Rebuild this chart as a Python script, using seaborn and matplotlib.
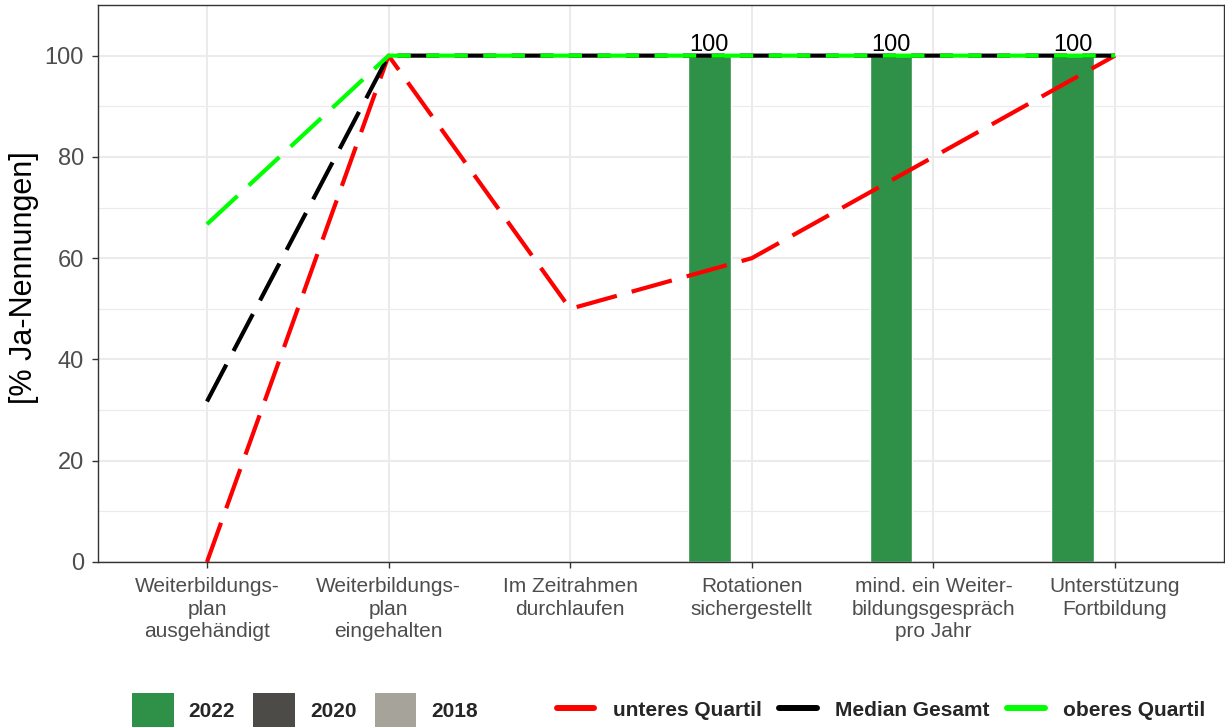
import numpy as np
import pandas as pd
import matplotlib
matplotlib.use("Agg")
import matplotlib.pyplot as plt
import seaborn as sns
from matplotlib.patches import Patch
from matplotlib.lines import Line2D

# categories (x axis)
categories = [
    "Weiterbildungs-\nplan\nausgehändigt",
    "Weiterbildungs-\nplan\neingehalten",
    "Im Zeitrahmen\ndurchlaufen",
    "Rotationen\nsichergestellt",
    "mind. ein Weiter-\nbildungsgespräch\npro Jahr",
    "Unterstützung\nFortbildung",
]
years = ["2022", "2020", "2018"]

# bar values per year (nan = no answer)
vals_2022 = [np.nan, np.nan, np.nan, 100, 100, 100]
vals_2020 = [np.nan] * 6
vals_2018 = [np.nan] * 6

# reference lines
unteres_quartil = [0, 100, 50, 60, 80, 100]
median_gesamt = [31.7, 100, 100, 100, 100, 100]
oberes_quartil = [66.7, 100, 100, 100, 100, 100]
line_names = ["unteres Quartil", "Median Gesamt", "oberes Quartil"]
line_colors = ["#FF0000", "black", "#00FF00"]

year_colors = {"2022": "#2F9048", "2020": "#4D4B47", "2018": "#A6A39B"}

df = pd.DataFrame({
    "kategorie": categories * 3,
    "jahr": ["2022"] * 6 + ["2020"] * 6 + ["2018"] * 6,
    "wert": vals_2022 + vals_2020 + vals_2018,
})

sns.set_theme(style="whitegrid")
plt.rcParams["font.family"] = ["Liberation Sans", "DejaVu Sans"]

fig = plt.figure(figsize=(12.25, 7.27), dpi=100)
ax = fig.add_axes([98 / 1225, 1 - 562 / 727, 1 - 98 / 1225 - 1 / 1225, (562 - 5) / 727])

sns.barplot(data=df, x="kategorie", y="wert", hue="jahr", order=categories,
            hue_order=years, palette=year_colors, width=0.7, dodge=True,
            errorbar=None, legend=False, saturation=1, ax=ax)

# value labels above bars
for cont in ax.containers:
    labels = ["" if np.isnan(v) else f"{v:.0f}" for v in cont.datavalues]
    ax.bar_label(cont, labels=labels, fontsize=17, padding=0, color="black")

xpos = np.arange(len(categories))
dash = (0, (10, 3.7))
for yvals, col in zip([unteres_quartil, median_gesamt, oberes_quartil], line_colors):
    sns.lineplot(x=xpos, y=yvals, color=col, linewidth=3, ax=ax, linestyle=dash)

ax.set_xlim(-0.6, 5.6)
ax.set_ylim(0, 110)
ax.set_yticks([0, 20, 40, 60, 80, 100])
ax.set_yticks([10, 30, 50, 70, 90, 110], minor=True)
ax.set_xticks(xpos)
ax.set_xticklabels(categories, fontsize=15, color="#4D4D4D", linespacing=1.22)
ax.tick_params(axis="y", labelsize=17, labelcolor="#4D4D4D", pad=6)
ax.tick_params(axis="x", pad=7)
ax.tick_params(axis="both", which="major", length=4, width=1, color="#333333",
               direction="out", bottom=True, left=True)
ax.tick_params(axis="both", which="minor", length=0)

ax.grid(which="major", color="#EBEBEB", linewidth=1.5)
ax.grid(which="minor", axis="y", color="#EBEBEB", linewidth=0.8)
ax.set_axisbelow(True)
for s in ax.spines.values():
    s.set_color("#333333")
    s.set_linewidth(1)

ax.set_xlabel("")
ax.set_ylabel("[% Ja-Nennungen]", fontsize=22, color="black")
ax.yaxis.set_label_coords(-0.052, 0.51)

# legends at the bottom
fill_handles = [Patch(facecolor=year_colors[y], edgecolor="none") for y in years]
leg1 = fig.legend(fill_handles, years, loc="center left", bbox_to_anchor=(132 / 1225, 1 - 710 / 727),
                  ncol=3, frameon=False, handlelength=2.0, handleheight=2.2,
                  handletextpad=0.72, columnspacing=0.87, borderpad=0, borderaxespad=0,
                  prop={"weight": "bold", "size": 15})

line_handles = [Line2D([0], [0], color=c, linewidth=4.3) for c in line_colors]
leg2 = fig.legend(line_handles, line_names,
                  loc="center left", bbox_to_anchor=(557 / 1225, 1 - 710 / 727), ncol=3,
                  frameon=False, handlelength=1.78, handletextpad=0.9, columnspacing=0.85,
                  borderpad=0, borderaxespad=0, prop={"weight": "bold", "size": 15})

fig.savefig("out.png", dpi=100)
plt.close(fig)
